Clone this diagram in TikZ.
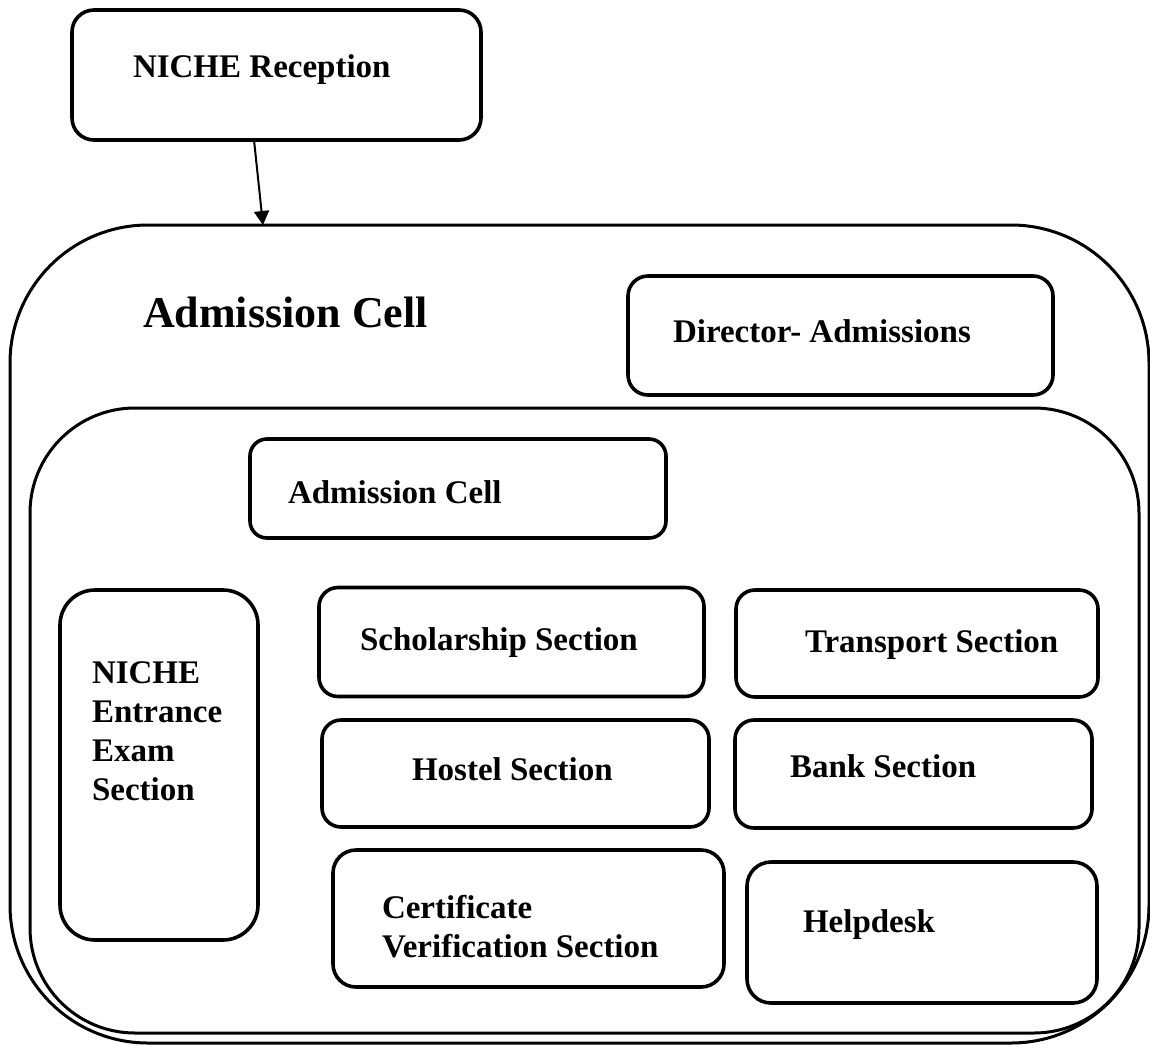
\documentclass[tikz,border=0pt]{standalone}
\usepackage{fontspec}
\setmainfont{Liberation Serif}
\usetikzlibrary{arrows.meta}
\tikzset{
  box/.style={draw, line width=3.6pt, rounded corners=#1, inner sep=0pt, outer sep=0pt},
  frame/.style={draw, line width=3pt, rounded corners=#1, inner sep=0pt, outer sep=0pt},
  lbl/.style={anchor=base west, inner sep=0pt, outer sep=0pt, align=left,
              font=\fontsize{33}{39}\selectfont\bfseries},
  biglbl/.style={anchor=base west, inner sep=0pt, outer sep=0pt,
              font=\fontsize{44}{50}\selectfont\bfseries},
  link/.style={line width=2pt, -{Triangle[length=14pt,width=15pt]}},
}
\begin{document}
\begin{tikzpicture}[x=1pt,y=-1pt]
\useasboundingbox (0,0) rectangle (1150,1044);
% frames
\node[frame=138pt, minimum width=1139pt, minimum height=818pt] (outer) at (579.5,634) {};
\node[frame=105pt, minimum width=1109pt, minimum height=625pt] (inner) at (584.5,720.5) {};
% boxes
\node[box=22pt, minimum width=409pt, minimum height=130pt] (reception) at (276.5,75) {};
\node[box=20pt, minimum width=425pt, minimum height=119pt] (director) at (840.5,335.5) {};
\node[box=17pt, minimum width=416pt, minimum height=99pt] (cell) at (458,488.5) {};
\node[box=35pt, minimum width=198pt, minimum height=350pt] (entrance) at (159,765) {};
\node[box=19pt, minimum width=385pt, minimum height=109pt] (scholar) at (511.5,642) {};
\node[box=19pt, minimum width=362pt, minimum height=107pt] (transport) at (917,643.5) {};
\node[box=19pt, minimum width=387pt, minimum height=107pt] (hostel) at (515.5,773.5) {};
\node[box=19pt, minimum width=357pt, minimum height=108pt] (bank) at (913.5,774) {};
\node[box=23pt, minimum width=391pt, minimum height=137pt] (cert) at (528.5,918.5) {};
\node[box=24pt, minimum width=350pt, minimum height=141pt] (help) at (922,932.5) {};
% arrow
\draw[link] ([xshift=-22.5pt]reception.south) -- ([xshift=-316.5pt]outer.north);
% labels
\node[lbl] (t-reception) at (133,77) {NICHE Reception};
\node[biglbl] (t-outer) at (143,327) {Admission Cell};
\node[lbl] (t-director) at (673,342) {Director- Admissions};
\node[lbl] (t-cell) at (288,503) {Admission Cell};
\node[lbl] (t-entrance) at (92,800) {NICHE\\Entrance\\Exam\\Section};
\node[lbl] (t-scholar) at (360,650) {Scholarship Section};
\node[lbl] (t-transport) at (805,652) {Transport Section};
\node[lbl] (t-hostel) at (412,780) {Hostel Section};
\node[lbl] (t-bank) at (790,777) {Bank Section};
\node[lbl] (t-cert) at (382,957) {Certificate\\Verification Section};
\node[lbl] (t-help) at (803,932) {Helpdesk};
\end{tikzpicture}
\end{document}
